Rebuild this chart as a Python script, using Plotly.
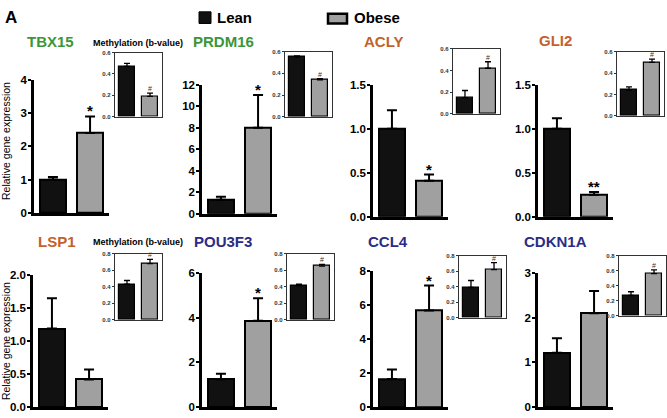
import plotly.graph_objects as go

# ---------------- data ----------------
genes = ["TBX15", "PRDM16", "ACLY", "GLI2", "LSP1", "POU3F3", "CCL4", "CDKN1A"]
groups = ["Lean", "Obese"]

expr_lean = [1.0, 1.3, 1.0, 1.0, 1.19, 1.24, 1.65, 1.22]
expr_lean_err = [0.08, 0.3, 0.21, 0.12, 0.46, 0.26, 0.57, 0.32]
expr_obese = [2.4, 8.0, 0.41, 0.25, 0.42, 3.87, 5.68, 2.1]
expr_obese_err = [0.5, 3.05, 0.07, 0.03, 0.15, 1.0, 1.47, 0.5]
expr_sig = ["*", "*", "*", "**", "", "*", "*", ""]
expr_ymax = [4, 12, 1.5, 1.5, 2.0, 6, 8, 3]
expr_dtick = [1, 2, 0.5, 0.5, 0.5, 2, 2, 1]

meth_lean = [0.47, 0.55, 0.15, 0.24, 0.43, 0.41, 0.39, 0.27]
meth_lean_err = [0.03, 0.01, 0.065, 0.03, 0.045, 0.02, 0.09, 0.05]
meth_obese = [0.19, 0.34, 0.42, 0.50, 0.68, 0.65, 0.62, 0.56]
meth_obese_err = [0.03, 0.01, 0.06, 0.03, 0.05, 0.02, 0.09, 0.05]
meth_sig = ["#", "#", "#", "#", "#", "#", "#", "#"]
meth_ymax = [0.6, 0.6, 0.6, 0.6, 0.8, 0.8, 0.8, 0.8]

# ---------------- layout geometry (pixels) ----------------
W, H = 667, 418
title_colors = ["#3a963a", "#3a963a", "#c4612b", "#c4612b",
                "#c4612b", "#2c2c86", "#2c2c86", "#2c2c86"]
main_geo = [(34, 76, 213), (202, 81, 214), (373, 81, 217), (538, 81, 217),
            (33, 277, 413), (202, 275, 413), (373, 273, 413), (538, 275, 413)]
inset_geo = [(115, 48, 114), (285, 47, 114), (453, 44, 111), (617, 47, 113),
             (115, 255, 323), (287, 255, 323), (459, 257, 321), (619, 257, 319)]
title_pos = [(50, 37), (223, 37), (383, 37), (555, 36),
             (57, 242), (223, 242), (388, 242), (555, 242)]
MAIN_W, INSET_W = 75, 47

BLACK = "#111111"
GREY = "#a0a0a0"
FONT = "Liberation Sans, Arial, Helvetica, sans-serif"


def px(x):
    return x / W


def py(y):
    return 1 - y / H


fig = go.Figure()
layout = dict(width=W, height=H, autosize=False,
              margin=dict(l=0, r=0, t=0, b=0),
              paper_bgcolor="white", plot_bgcolor="white",
              showlegend=False, barmode="overlay", bargap=0)
annotations = []
shapes = []


def axname(n):
    return ("xaxis" if n == 1 else f"xaxis{n}"), ("yaxis" if n == 1 else f"yaxis{n}")


def ref(n):
    return ("x" if n == 1 else f"x{n}"), ("y" if n == 1 else f"y{n}")


n = 0
for i, g in enumerate(genes):
    # ---------- main panel ----------
    n += 1
    xa, ya = axname(n)
    xr, yr = ref(n)
    ax, top, bot = main_geo[i]
    fig.add_trace(go.Bar(
        x=groups, y=[expr_lean[i], expr_obese[i]], width=0.7,
        marker=dict(color=[BLACK, GREY], line=dict(color="black", width=2)),
        error_y=dict(type="data", symmetric=False,
                     array=[expr_lean_err[i], expr_obese_err[i]],
                     arrayminus=[0, 0], color="black", thickness=2, width=5),
        xaxis=xr, yaxis=yr, hoverinfo="skip"))
    fmt = ".1f" if expr_dtick[i] < 1 else "d"
    layout[xa] = dict(domain=[px(ax), px(ax + MAIN_W)], range=[-0.51, 1.51],
                      anchor=yr, showline=True, linecolor="black", linewidth=2.5,
                      showticklabels=False, ticks="", showgrid=False, zeroline=False,
                      type="category")
    layout[ya] = dict(domain=[py(bot), py(top)], range=[0, expr_ymax[i]],
                      anchor=xr, showline=True, linecolor="black", linewidth=2.5,
                      ticks="outside", ticklen=3, tickwidth=2, tickcolor="black",
                      ticklabelstandoff=-1,
                      dtick=expr_dtick[i], tick0=0, tickformat=fmt,
                      tickfont=dict(family=FONT, size=11.5, color="black", weight="bold"),
                      showgrid=False, zeroline=False)
    if expr_sig[i]:
        annotations.append(dict(x="Obese", y=expr_obese[i] + expr_obese_err[i],
                                xref=xr, yref=yr, text=expr_sig[i], showarrow=False,
                                yanchor="bottom", yshift=-5,
                                font=dict(family=FONT, size=15, color="black",
                                          weight="bold")))
    tx, ty = title_pos[i]
    annotations.append(dict(x=px(tx), y=py(ty), xref="paper", yref="paper",
                            text=g, showarrow=False, xanchor="center", yanchor="middle",
                            font=dict(family=FONT, size=15, color=title_colors[i],
                                      weight="bold")))

    # ---------- inset ----------
    n += 1
    xa, ya = axname(n)
    xr, yr = ref(n)
    ax, top, bot = inset_geo[i]
    fig.add_trace(go.Bar(
        x=groups, y=[meth_lean[i], meth_obese[i]], width=0.7,
        marker=dict(color=[BLACK, GREY], line=dict(color="black", width=1.2)),
        error_y=dict(type="data", symmetric=False,
                     array=[meth_lean_err[i], meth_obese_err[i]],
                     arrayminus=[0, 0], color="black", thickness=1.3, width=3),
        xaxis=xr, yaxis=yr, hoverinfo="skip"))
    layout[xa] = dict(domain=[px(ax), px(ax + INSET_W)], range=[-0.52, 1.52],
                      anchor=yr, showline=True, linecolor="#333333", linewidth=1.2,
                      mirror=True, showticklabels=False, ticks="", showgrid=False,
                      zeroline=False, type="category")
    layout[ya] = dict(domain=[py(bot), py(top)], range=[0, meth_ymax[i]],
                      anchor=xr, showline=True, linecolor="#333333", linewidth=1.2,
                      mirror=True, ticks="outside", ticklen=2, tickwidth=1,
                      tickcolor="#333333", dtick=0.2, tick0=0, tickformat=".1f",
                      tickfont=dict(family=FONT, size=6, color="#333333", weight="bold"),
                      showgrid=False, zeroline=False)
    annotations.append(dict(x="Obese", y=meth_obese[i] + meth_obese_err[i],
                            xref=xr, yref=yr, text=meth_sig[i], showarrow=False,
                            yanchor="bottom", yshift=-1,
                            font=dict(family=FONT, size=7, color="#333333")))

for (mx, my) in [(138, 38), (138, 243)]:
    annotations.append(dict(x=px(mx), y=py(my), xref="paper", yref="paper",
                            text="Methylation (b-value)", showarrow=False,
                            xanchor="center", yanchor="middle",
                            font=dict(family=FONT, size=9, color="black", weight="bold")))

for cy in [139, 345]:
    annotations.append(dict(x=px(6), y=py(cy), xref="paper", yref="paper",
                            text="Relative gene expression", showarrow=False,
                            textangle=-90, xanchor="center", yanchor="middle",
                            font=dict(family=FONT, size=10.5, color="black")))

annotations.append(dict(x=px(3), y=py(12), xref="paper", yref="paper", text="A",
                        showarrow=False, xanchor="left", yanchor="middle",
                        font=dict(family=FONT, size=17, color="black", weight="bold")))

shapes.append(dict(type="rect", xref="paper", yref="paper",
                   x0=px(199), x1=px(211), y0=py(18), y1=py(6),
                   fillcolor=BLACK, line=dict(color="black", width=1)))
annotations.append(dict(x=px(215), y=py(12), xref="paper", yref="paper", text="Lean",
                        showarrow=False, xanchor="left", yanchor="middle",
                        font=dict(family=FONT, size=15, color="black", weight="bold")))
shapes.append(dict(type="rect", xref="paper", yref="paper",
                   x0=px(328), x1=px(347), y0=py(18), y1=py(8),
                   fillcolor=GREY, line=dict(color="black", width=2.5)))
annotations.append(dict(x=px(352), y=py(12), xref="paper", yref="paper", text="Obese",
                        showarrow=False, xanchor="left", yanchor="middle",
                        font=dict(family=FONT, size=15, color="black", weight="bold")))

layout["annotations"] = annotations
layout["shapes"] = shapes
fig.update_layout(**layout)

post = ("document.body.style.margin='0';document.body.style.padding='0';"
        "document.documentElement.style.margin='0';"
        "document.documentElement.style.overflow='hidden';")
fig.write_html("out.html", include_plotlyjs=True, post_script=post,
               config={"displayModeBar": False})
